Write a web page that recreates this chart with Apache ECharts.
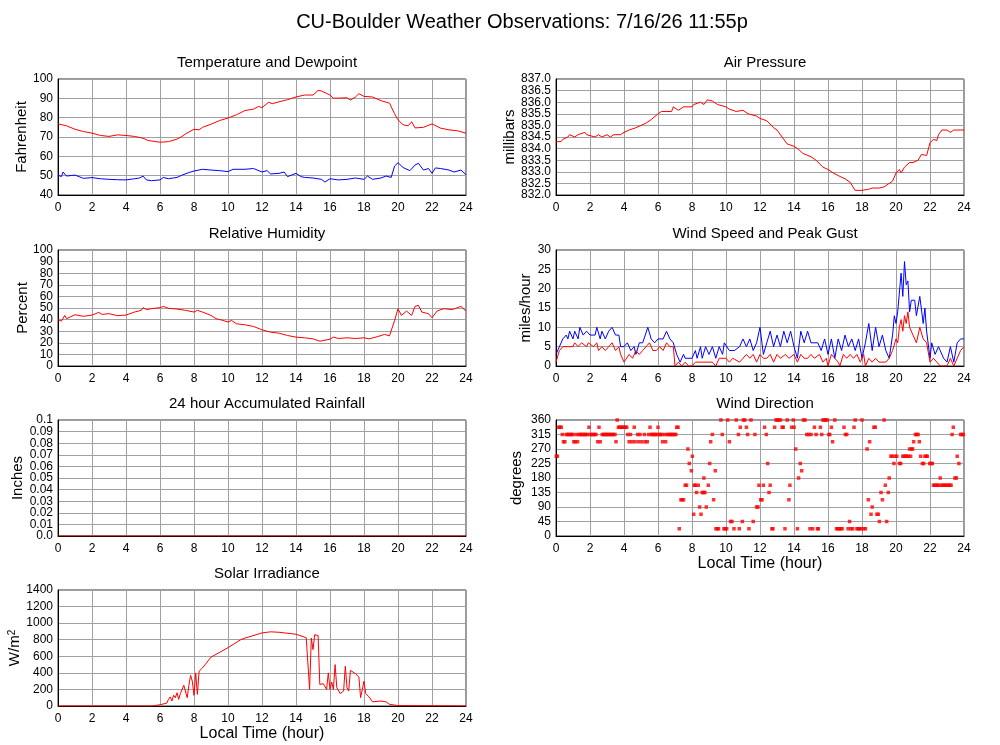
<!DOCTYPE html>
<html>
<head>
<meta charset="utf-8">
<title>CU-Boulder Weather Observations</title>
<script src="https://cdn.jsdelivr.net/npm/echarts@6/dist/echarts.min.js"></script>
<style>
  html, body { margin: 0; padding: 0; background: #fff; }
  #weather { width: 1000px; height: 745px; }
</style>
</head>
<body>
<div id="weather"></div>
<script>
// readings as [hour, value]
const tempF = [[0,76.8],[0.5,75.8],[1,74],[1.5,72.8],[2,72],[2.5,70.8],[3,70.3],[3.5,71.1],[4,70.8],[4.5,70.3],[5,69.4],[5.3,68.2],[6,67.3],[6.5,67.6],[7,68.9],[7.3,70.3],[7.5,71.6],[8,74],[8.3,73.7],[8.5,75],[9,76.6],[9.5,78.5],[10,79.8],[10.5,81.5],[11,83.7],[11.5,84.4],[11.8,85.8],[12,85.2],[12.4,88],[12.6,87.2],[13,88.2],[13.5,89.3],[14,90.7],[14.5,91.7],[15,91.7],[15.3,94.1],[15.5,93.8],[16,91.7],[16.2,90.1],[16.5,90.1],[17,90.3],[17.2,89.1],[17.5,90.7],[17.7,92.4],[18,91],[18.5,90.7],[19,88.8],[19.5,87.5],[19.6,86.7],[19.8,82],[20,78.9],[20.3,76.3],[20.6,75.8],[20.8,77.9],[21,74.7],[21.5,75],[22,76.8],[22.5,74.6],[23,73.7],[23.5,73.2],[24,72]];

const dewpointF = [[0,50.3],[0.2,49.5],[0.3,51.9],[0.5,49.8],[1,50.3],[1.5,48.6],[2,49],[2.5,48.4],[3,48.1],[3.5,47.9],[4,47.8],[4.5,48.4],[4.8,48.8],[5,49.8],[5.2,47.8],[5.5,47.4],[6,47.8],[6.2,49.1],[6.5,48.4],[7,49.1],[7.3,50.3],[7.7,51.6],[8,52.4],[8.5,53.3],[9,52.9],[9.5,52.6],[10,52.1],[10.3,53.3],[11,53.3],[11.5,53.7],[12,51.9],[12.3,52.6],[12.5,50.9],[13,51.2],[13.3,51.9],[13.5,49.5],[14,51.2],[14.3,49.5],[14.5,49.1],[15,48.8],[15.5,48.1],[15.7,46.7],[16,48.4],[16.5,47.8],[17,48.1],[17.5,48.8],[18,48.1],[18.2,49.8],[18.5,48.1],[19,48.8],[19.3,49.8],[19.6,49.1],[19.8,55],[20,56.7],[20.3,54.2],[20.7,52.6],[21,55.5],[21.2,56.4],[21.5,52.9],[21.8,53.7],[22,51.2],[22.2,54],[22.5,53.7],[23,52.9],[23.3,51.9],[23.7,52.9],[24,50.5]];

const humidityPct = [[0,39.9],[0.2,38.7],[0.4,43.6],[0.5,40.8],[1,44.2],[1.5,42.8],[2,43.9],[2.4,46.2],[2.6,44.5],[3,45.1],[3.5,43.4],[4,43.9],[4.5,46.5],[4.9,48],[5,50.3],[5.2,48.6],[5.5,49.4],[6,50.3],[6.2,51.4],[6.5,49.7],[7,49.1],[7.5,48],[8,46.5],[8.2,48],[8.5,46.5],[9,43.6],[9.3,40.8],[9.7,39.3],[10,37.9],[10.2,39.3],[10.5,36.4],[11,35.5],[11.5,34.1],[12,31.2],[12.5,29.2],[13,28.3],[13.5,26.3],[14,24.9],[14.5,24.3],[15,23.4],[15.4,21.4],[16,23.1],[16.2,24.9],[16.5,23.7],[17,24.3],[17.5,23.7],[18,24.3],[18.3,23.4],[18.7,24.9],[19.2,27.2],[19.5,26],[19.6,27.7],[19.8,39.3],[20,49.4],[20.2,43.6],[20.5,47.4],[20.8,43.6],[21,51.4],[21.2,52.3],[21.4,46.5],[21.8,45.1],[22,41.6],[22.3,47.4],[22.7,49.4],[23.2,48.6],[23.7,51.4],[24,47.4]];

const rainInches = [[0,0],[2,0],[4,0],[6,0],[8,0],[10,0],[12,0],[14,0],[16,0],[18,0],[20,0],[22,0],[24,0]];

const solarWm2 = [[0,0],[5.5,0],[6,15],[6.4,35],[6.5,80],[6.6,110],[6.7,60],[6.8,130],[6.9,100],[7,160],[7.1,80],[7.2,150],[7.3,140],[7.4,250],[7.5,230],[7.6,100],[7.7,250],[7.8,370],[7.9,300],[8,130],[8.1,400],[8.2,140],[8.3,420],[8.5,460],[9,590],[10,704],[10.75,800],[11,820],[12,882],[12.5,895],[13,890],[14,866],[14.6,825],[14.7,810],[14.8,200],[14.9,820],[15,680],[15.1,860],[15.2,850],[15.3,850],[15.4,260],[15.6,270],[15.8,200],[15.9,400],[16,200],[16.1,290],[16.2,200],[16.3,500],[16.4,220],[16.6,150],[16.8,180],[16.9,480],[17,220],[17.1,180],[17.2,430],[17.5,390],[17.7,350],[17.8,100],[17.9,200],[18,300],[18.1,150],[18.3,110],[18.5,50],[19,60],[19.3,50],[19.5,20],[20,5],[20.1,0],[24,0]];

const pressureMb = [[0,834.3],[0.3,834.3],[0.4,834.4],[0.7,834.5],[0.8,834.6],[1.1,834.5],[1.3,834.6],[1.7,834.7],[1.8,834.6],[2.3,834.5],[2.5,834.6],[2.7,834.5],[3,834.6],[3.2,834.5],[3.4,834.6],[3.8,834.6],[4,834.7],[4.3,834.8],[4.7,834.9],[5,835],[5.3,835.1],[5.6,835.25],[6,835.5],[6.2,835.6],[6.8,835.6],[6.9,835.8],[7.2,835.65],[7.5,835.8],[8,835.8],[8.1,835.9],[8.5,836],[8.7,835.9],[8.9,836.1],[9.2,836.05],[9.5,835.9],[10,835.8],[10.2,835.7],[10.6,835.6],[11,835.65],[11.3,835.5],[11.8,835.4],[12,835.3],[12.4,835.2],[12.8,834.9],[13,834.8],[13.3,834.5],[13.6,834.2],[14,834.1],[14.3,833.95],[14.5,833.8],[15,833.65],[15.3,833.5],[15.7,833.2],[16,833.1],[16.3,832.95],[16.7,832.8],[17,832.7],[17.3,832.55],[17.6,832.2],[18,832.2],[18.4,832.25],[18.6,832.3],[19,832.3],[19.3,832.35],[19.6,832.5],[19.8,832.6],[20,832.95],[20.2,833.1],[20.3,832.95],[20.5,833.2],[20.8,833.4],[21,833.4],[21.3,833.5],[21.5,833.75],[21.8,833.7],[22,834.25],[22.2,834.4],[22.4,834.35],[22.5,834.6],[22.7,834.8],[23,834.8],[23.2,834.7],[23.4,834.8],[24,834.8]];

const gustMph = [[0,3],[0.1,3],[0.2,5],[0.4,7],[0.6,8],[0.7,7],[0.8,9],[1,7],[1.1,9],[1.3,7],[1.4,10],[1.6,8],[1.8,9],[2,8],[2.3,8],[2.4,10],[2.6,7],[2.7,9],[2.9,7],[3.1,9],[3.3,10],[3.5,8],[3.7,8],[3.8,5],[4,5],[4.2,6],[4.4,4],[4.6,5],[4.7,3],[4.9,6],[5.1,6],[5.4,10],[5.6,7],[5.8,6],[6,7],[6.3,7],[6.5,9],[6.7,7],[6.9,6],[7.1,3],[7.3,1],[7.5,3],[7.6,2],[8,2],[8.2,4],[8.3,2],[8.5,5],[8.6,2],[8.8,5],[9,3],[9.2,5],[9.4,2],[9.6,5],[9.8,3],[9.9,6],[10.2,4],[10.5,4],[10.8,5],[11,7],[11.2,5],[11.4,7],[11.6,4],[11.8,6],[12,10],[12.2,3],[12.4,6],[12.6,9],[12.8,5],[13,8],[13.2,5],[13.4,9],[13.6,6],[13.8,9],[14,5],[14.2,2],[14.4,9],[14.6,6],[14.8,9],[15,6],[15.4,6],[15.6,4],[15.8,7],[16,3],[16.2,7],[16.4,2],[16.6,7],[16.8,4],[17,8],[17.2,5],[17.4,7],[17.6,4],[17.8,7],[18,2],[18.2,6],[18.4,11],[18.6,4],[18.8,10],[19,5],[19.2,8],[19.4,4],[19.6,2],[19.8,8],[19.9,13],[20,11],[20.1,14],[20.3,24],[20.4,18],[20.5,27],[20.6,21],[20.7,22],[20.8,14],[20.9,17],[21.1,17],[21.2,13],[21.4,18],[21.6,11],[21.7,15],[21.8,9],[22,2],[22.1,6],[22.3,3],[22.5,5],[22.8,2],[23,1],[23.2,5],[23.4,1],[23.6,6],[23.8,7],[24,7]];

const speedMph = [[0,1],[0.1,1],[0.2,4],[0.4,5],[1,5],[1.1,6],[1.3,5],[1.5,6],[1.8,5],[1.9,6],[2.2,5],[2.4,6],[2.5,4],[2.7,5],[2.9,4],[3.1,5],[3.3,6],[3.5,4],[3.7,5],[3.8,3],[4,1],[4.1,1],[4.3,3],[4.5,2],[4.7,4],[4.9,3],[5.1,4],[5.3,5],[5.5,6],[5.7,4],[5.9,4],[6.1,5],[6.3,4],[6.5,6],[6.7,5],[6.9,5],[7,0],[7.2,1],[7.4,0],[7.6,1],[7.8,0],[8,0],[8.2,1],[9.2,1],[9.4,0],[9.6,2],[10,2],[10.2,1],[10.4,2],[10.8,1],[11,2],[11.2,3],[11.4,2],[11.6,3],[11.8,1],[12,3],[12.2,2],[12.4,2],[12.6,3],[12.8,1],[13,3],[13.2,2],[13.5,3],[13.7,2],[14,3],[14.2,1],[14.4,3],[14.6,2],[14.8,2],[15,3],[15.2,2],[15.5,3],[15.7,1],[15.9,2],[16,0],[16.2,3],[16.4,2],[16.6,1],[16.7,0],[16.9,3],[17.1,2],[17.3,3],[17.5,2],[17.7,3],[17.9,1],[18.1,3],[18.2,0],[18.4,2],[18.6,1],[18.8,2],[19,1],[19.4,1],[19.6,2],[19.8,4],[20,7],[20.1,6],[20.2,10],[20.3,12],[20.4,9],[20.5,13],[20.6,11],[20.7,14],[20.8,10],[21,8],[21.2,6],[21.4,10],[21.6,7],[21.8,6],[22,1],[22.2,2],[22.4,1],[22.6,0],[23,0],[23.2,2],[23.4,0],[23.6,2],[23.8,4],[24,5]];

const windDirDeg = [[0.02,247.5],[0.08,247.5],[0.15,337.5],[0.23,337.5],[0.31,337.5],[0.37,315],[0.44,292.5],[0.52,292.5],[0.6,315],[0.68,315],[0.76,315],[0.84,315],[0.92,315],[1.0,315],[1.05,292.5],[1.13,292.5],[1.2,315],[1.27,292.5],[1.35,315],[1.43,315],[1.52,315],[1.6,315],[1.68,315],[1.76,315],[1.85,315],[1.94,337.5],[2.02,315],[2.1,315],[2.18,315],[2.27,315],[2.35,315],[2.45,292.5],[2.53,337.5],[2.6,292.5],[2.72,315],[2.8,315],[2.88,315],[2.97,315],[3.05,315],[3.13,315],[3.22,315],[3.3,315],[3.38,315],[3.47,315],[3.53,292.5],[3.6,360],[3.67,337.5],[3.75,337.5],[3.83,337.5],[3.92,337.5],[4.0,337.5],[4.08,337.5],[4.16,337.5],[4.22,315],[4.3,292.5],[4.38,315],[4.47,292.5],[4.6,337.5],[4.65,292.5],[4.8,315],[4.86,292.5],[4.94,315],[5.05,292.5],[5.2,315],[5.25,292.5],[5.37,292.5],[5.45,315],[5.53,337.5],[5.6,315],[5.68,315],[5.76,315],[5.85,315],[5.93,315],[6.0,337.5],[6.07,315],[6.15,315],[6.23,315],[6.27,292.5],[6.4,315],[6.45,292.5],[6.55,315],[6.63,315],[6.72,315],[6.8,315],[6.88,315],[6.97,315],[7.05,315],[7.1,337.5],[7.18,337.5],[7.25,22.5],[7.35,112.5],[7.42,112.5],[7.5,112.5],[7.6,157.5],[7.68,157.5],[7.76,270],[7.84,225],[7.96,202.5],[8.02,247.5],[8.1,67.5],[8.14,157.5],[8.2,157.5],[8.27,135],[8.37,157.5],[8.45,90],[8.53,67.5],[8.6,135],[8.68,135],[8.7,180],[8.76,135],[8.84,90],[8.96,157.5],[9.04,225],[9.1,292.5],[9.2,315],[9.27,112.5],[9.37,202.5],[9.41,22.5],[9.5,22.5],[9.56,22.5],[9.7,360],[9.78,315],[9.88,22.5],[9.96,22.5],[10.04,22.5],[10.1,360],[10.2,292.5],[10.27,45],[10.35,45],[10.47,22.5],[10.6,360],[10.73,315],[10.78,22.5],[10.84,337.5],[10.96,45],[11.02,360],[11.1,360],[11.2,337.5],[11.27,315],[11.35,22.5],[11.47,360],[11.6,45],[11.7,315],[11.8,90],[11.88,90],[11.94,157.5],[12.04,112.5],[12.12,112.5],[12.2,157.5],[12.27,337.5],[12.37,315],[12.45,225],[12.53,135],[12.6,157.5],[12.7,22.5],[12.76,22.5],[12.86,337.5],[12.94,360],[13.02,360],[13.1,360],[13.2,360],[13.3,337.5],[13.37,337.5],[13.47,22.5],[13.6,360],[13.7,112.5],[13.76,157.5],[13.86,337.5],[13.96,360],[14.0,337.5],[14.1,270],[14.2,22.5],[14.27,180],[14.37,225],[14.45,202.5],[14.55,360],[14.65,360],[14.75,315],[14.86,315],[14.94,22.5],[15.0,315],[15.1,22.5],[15.2,337.5],[15.3,315],[15.38,22.5],[15.43,22.5],[15.55,337.5],[15.63,315],[15.7,360],[15.78,360],[15.87,360],[15.96,360],[16.05,315],[16.1,315],[16.2,337.5],[16.27,292.5],[16.4,360],[16.5,22.5],[16.58,22.5],[16.66,22.5],[16.74,22.5],[16.83,22.5],[16.94,337.5],[17.02,315],[17.1,315],[17.18,22.5],[17.27,45],[17.35,22.5],[17.45,22.5],[17.53,337.5],[17.6,360],[17.7,22.5],[17.78,22.5],[17.86,22.5],[17.95,22.5],[18.0,360],[18.1,22.5],[18.2,22.5],[18.3,270],[18.37,112.5],[18.45,292.5],[18.53,67.5],[18.6,90],[18.7,337.5],[18.78,337.5],[18.88,67.5],[18.96,67.5],[19.02,45],[19.12,135],[19.2,112.5],[19.3,360],[19.37,157.5],[19.45,45],[19.55,135],[19.6,180],[19.7,247.5],[19.78,247.5],[19.88,225],[19.95,247.5],[20.05,247.5],[20.2,225],[20.28,225],[20.4,247.5],[20.48,247.5],[20.56,247.5],[20.64,247.5],[20.72,247.5],[20.8,270],[20.86,247.5],[20.92,270],[20.98,270],[21.04,292.5],[21.14,315],[21.22,315],[21.3,315],[21.37,292.5],[21.45,247.5],[21.55,225],[21.63,225],[21.7,247.5],[21.78,247.5],[21.84,247.5],[21.98,225],[22.06,225],[22.14,225],[22.2,157.5],[22.28,157.5],[22.36,157.5],[22.44,157.5],[22.52,157.5],[22.6,180],[22.68,157.5],[22.76,157.5],[22.84,157.5],[22.92,157.5],[23.0,157.5],[23.08,157.5],[23.16,157.5],[23.24,157.5],[23.3,315],[23.37,337.5],[23.47,180],[23.55,180],[23.6,247.5],[23.7,225],[23.8,315],[23.88,315],[23.96,315]];

const FONT = 'Liberation Sans, Arial, sans-serif';
const RED = '#ff0000';
const BLUE = '#0000ff';

let dom = document.getElementById('weather');
let myChart = echarts.init(dom);

// panel boxes: left column / right column, four rows
const cols = [58, 556];
const rows = [79, 250, 420, 590];
const panelW = 408, panelH = 116;

function grid(col, row) {
    return {
        left: cols[col], top: rows[row], width: panelW, height: panelH,
        show: true, borderColor: '#333', borderWidth: 1, backgroundColor: '#fff'
    };
}

function xAxis(idx, withName) {
    return {
        type: 'value', gridIndex: idx, min: 0, max: 24, interval: 2,
        axisLine: { show: true, onZero: false, lineStyle: { color: '#000' } },
        axisTick: { show: false },
        axisLabel: {
            color: '#000', fontSize: 12, fontFamily: FONT, margin: 7,
            showMinLabel: true, showMaxLabel: true, hideOverlap: false
        },
        splitLine: { show: true, lineStyle: { color: '#a0a0a0', width: 1 } },
        name: withName ? 'Local Time (hour)' : '',
        nameLocation: 'middle', nameGap: 20,
        nameTextStyle: { color: '#000', fontSize: 16, fontFamily: FONT }
    };
}

const labelStyle = { color: '#000', fontSize: 12, fontFamily: FONT, margin: 5, hideOverlap: false };

// main value axis: interior tick labels, grid lines, axis name.
// Its end labels are left to a companion axis (below), because the dense
// 11.6px label spacing makes ECharts drop the labels next to min/max.
function yAxis(idx, name, min, max, interval, gap, fmt) {
    return {
        type: 'value', gridIndex: idx, min: min, max: max, interval: interval,
        axisLine: { show: true, lineStyle: { color: '#000' } },
        axisTick: { show: false },
        axisLabel: Object.assign({}, labelStyle, {
            showMinLabel: false, showMaxLabel: false,
            formatter: fmt || function (v) { return String(v); }
        }),
        splitLine: { show: true, lineStyle: { color: '#a0a0a0', width: 1 } },
        name: name, nameLocation: 'middle', nameGap: gap, nameRotate: 90,
        nameTextStyle: {
            color: '#000', fontSize: 15, fontFamily: FONT,
            rich: { sup: { fontSize: 10, verticalAlign: 'top', color: '#000', fontFamily: FONT, padding: [0, 0, 6, 0] } }
        }
    };
}

// companion axis on the same grid that only carries the min and max labels
function edgeAxis(idx, min, max, fmt) {
    return {
        type: 'value', gridIndex: idx, min: min, max: max, interval: max - min,
        position: 'left',
        axisLine: { show: false }, axisTick: { show: false }, splitLine: { show: false },
        axisLabel: Object.assign({}, labelStyle, {
            showMinLabel: true, showMaxLabel: true,
            formatter: fmt || function (v) { return String(v); }
        })
    };
}

function line(idx, data, color) {
    return {
        type: 'line', xAxisIndex: idx, yAxisIndex: idx, data: data,
        showSymbol: false, symbol: 'none',
        lineStyle: { color: color, width: 1 }, itemStyle: { color: color }
    };
}

function panelTitle(text, col, row) {
    return {
        text: text, left: cols[col] + panelW / 2, top: rows[row] - 29, textAlign: 'center',
        textStyle: { color: '#000', fontSize: 15, fontWeight: 'normal', fontFamily: FONT }
    };
}

const rainFmt = function (v) { return v === 0 ? '0.0' : String(+v.toFixed(2)); };
const pressFmt = function (v) { return v.toFixed(1); };

option = {
    animation: false,
    backgroundColor: '#fff',
    title: [
        {
            text: 'CU-Boulder Weather Observations: 7/16/26 11:55p',
            left: 517, top: 7, textAlign: 'center',
            textStyle: { color: '#000', fontSize: 20, fontWeight: 'normal', fontFamily: FONT }
        },
        panelTitle('Temperature and Dewpoint', 0, 0),
        panelTitle('Relative Humidity', 0, 1),
        panelTitle('24 hour Accumulated Rainfall', 0, 2),
        panelTitle('Solar Irradiance', 0, 3),
        panelTitle('Air Pressure', 1, 0),
        panelTitle('Wind Speed and Peak Gust', 1, 1),
        panelTitle('Wind Direction', 1, 2)
    ],
    grid: [grid(0, 0), grid(0, 1), grid(0, 2), grid(0, 3), grid(1, 0), grid(1, 1), grid(1, 2)],
    xAxis: [xAxis(0), xAxis(1), xAxis(2), xAxis(3, true), xAxis(4), xAxis(5), xAxis(6, true)],
    yAxis: [
        yAxis(0, 'Fahrenheit', 40, 100, 10, 29),
        yAxis(1, 'Percent', 0, 100, 10, 28),
        yAxis(2, 'Inches', 0, 0.1, 0.01, 32, rainFmt),
        yAxis(3, 'W/m{sup|2}', 0, 1400, 200, 32),
        yAxis(4, 'millibars', 832, 837, 0.5, 37, pressFmt),
        yAxis(5, 'miles/hour', 0, 30, 5, 21),
        yAxis(6, 'degrees', 0, 360, 45, 32),
        edgeAxis(0, 40, 100),
        edgeAxis(1, 0, 100),
        edgeAxis(2, 0, 0.1, rainFmt),
        edgeAxis(3, 0, 1400),
        edgeAxis(4, 832, 837, pressFmt),
        edgeAxis(5, 0, 30),
        edgeAxis(6, 0, 360)
    ],
    series: [
        line(0, tempF, RED),
        line(0, dewpointF, BLUE),
        line(1, humidityPct, RED),
        line(2, rainInches, '#cc0000'),
        line(3, solarWm2, RED),
        line(4, pressureMb, RED),
        line(5, gustMph, BLUE),
        line(5, speedMph, RED),
        {
            type: 'scatter', xAxisIndex: 6, yAxisIndex: 6, data: windDirDeg,
            symbol: 'rect', symbolSize: 3.5,
            itemStyle: { color: RED }
        }
    ]
};

if (option && typeof option === 'object') {
    myChart.setOption(option, true);
    window.addEventListener('resize', function () {
        myChart.resize();
    });
}
</script>
</body>
</html>
